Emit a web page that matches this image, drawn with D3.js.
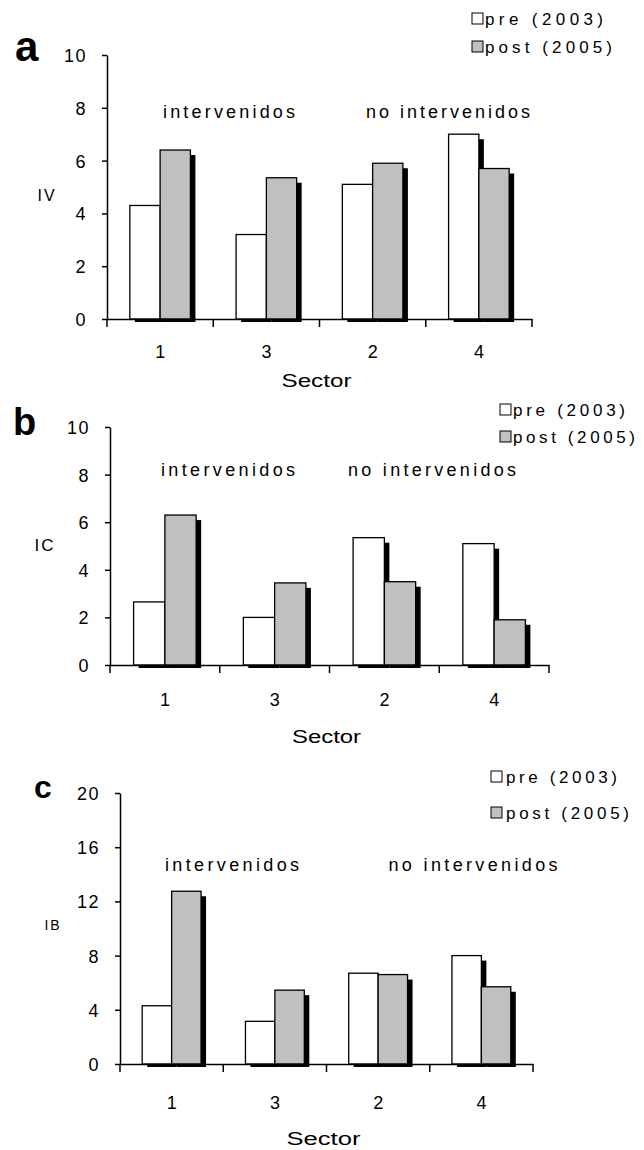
<!DOCTYPE html>
<html lang="es">
<head>
<meta charset="UTF-8">
<title>IV, IC, IB por sector</title>
<style>
body { margin: 0; background: #fff; }
svg { display: block; }
text { font-family: "Liberation Sans", Arial, sans-serif; fill: #000; }
.axis path, .axis line { stroke: #000; stroke-width: 1.5; }
.panel-letter { font-weight: bold; }
</style>
</head>
<body>
<svg width="644" height="1150"></svg>
<script src="https://d3js.org/d3.v7.min.js"></script>
<script>
// sectores en el orden del grafico
var sectors = ["1", "3", "2", "4"];
var seriesNames = ["pre (2003)", "post (2005)"];
var groupLabels = ["intervenidos", "no intervenidos"];

// a: IV
var ivPre = [4.3, 3.2, 5.1, 7.0];
var ivPost = [6.4, 5.35, 5.9, 5.7];
// b: IC
var icPre = [2.65, 2.0, 5.35, 5.1];
var icPost = [6.3, 3.45, 3.5, 1.9];
// c: IB
var ibPre = [4.3, 3.15, 6.7, 8.0];
var ibPost = [12.75, 5.45, 6.6, 5.7];

var ticks10 = [0, 2, 4, 6, 8, 10];
var ticks20 = [0, 4, 8, 12, 16, 20];

var fills = ["#ffffff", "#c0c0c0"];

var svg = d3.select("svg");
svg.append("rect").attr("width", 644).attr("height", 1150).attr("fill", "#fff");

function panel(p) {
    var g = svg.append("g");

    var x = d3.scaleBand().domain(sectors).range([p.x0, p.x1]);
    var y = d3.scaleLinear().domain([0, p.ymax]).range([p.y0, p.yTop]);

    var inner = x.bandwidth() * 0.57;
    var sub = d3.scaleBand().domain([0, 1]).range([0, inner]);
    var off = (x.bandwidth() - inner) / 2;

    var rows = [];
    sectors.forEach(function(s, i) {
        rows.push({ s: s, k: 0, v: p.pre[i] });
        rows.push({ s: s, k: 1, v: p.post[i] });
    });

    // sombras
    g.selectAll(".shadow").data(rows).enter().append("rect")
        .attr("class", "shadow")
        .attr("x", function(d) { return x(d.s) + off + sub(d.k) + 5; })
        .attr("y", function(d) { return y(d.v) + 5; })
        .attr("width", sub.bandwidth())
        .attr("height", function(d) { return p.y0 + 3 - y(d.v) - 5; })
        .attr("fill", "#000");

    g.selectAll(".bar").data(rows).enter().append("rect")
        .attr("class", "bar")
        .attr("x", function(d) { return x(d.s) + off + sub(d.k); })
        .attr("y", function(d) { return y(d.v); })
        .attr("width", sub.bandwidth())
        .attr("height", function(d) { return p.y0 - y(d.v); })
        .attr("fill", function(d) { return fills[d.k]; })
        .attr("stroke", "#000")
        .attr("stroke-width", 1.3);

    // eje y
    var ya = g.append("g").attr("class", "axis")
        .attr("transform", "translate(" + p.x0 + ",0)")
        .call(d3.axisLeft(y).tickValues(p.ticks).tickSize(5).tickSizeOuter(0).tickPadding(15));
    ya.selectAll("text").style("font-size", "18px").attr("letter-spacing", 1.5).attr("dy", "0.36em");

    // eje x: linea, marcas entre sectores y etiquetas centradas
    var xa = g.append("g").attr("class", "axis")
        .attr("transform", "translate(0," + p.y0 + ")")
        .call(d3.axisBottom(x).tickSize(0).tickSizeOuter(0).tickPadding(p.labelGap));
    xa.selectAll("text").style("font-size", "18px").attr("dy", "0.36em").attr("y", p.labelGap);
    var marks = sectors.map(function(s) { return x(s); }).concat([p.x1]);
    xa.selectAll(".mark").data(marks).enter().append("line")
        .attr("class", "mark")
        .attr("x1", function(d) { return d; }).attr("x2", function(d) { return d; })
        .attr("y1", 0).attr("y2", 8)
        .attr("stroke", "#000").attr("stroke-width", 1.5);

    g.append("text")
        .attr("x", (p.x0 + p.x1) / 2 - 3).attr("y", p.sectorY).attr("dy", "0.36em")
        .attr("text-anchor", "middle")
        .attr("textLength", p.sectorW)
        .attr("lengthAdjust", "spacingAndGlyphs")
        .style("font-size", "18px")
        .text("Sector");

    g.append("text")
        .attr("x", p.yLabX).attr("y", p.yLabY).attr("dy", "0.36em")
        .attr("text-anchor", "middle")
        .attr("letter-spacing", 2)
        .style("font-size", p.yLabSize + "px")
        .text(p.yLabel);

    g.append("text")
        .attr("class", "panel-letter")
        .attr("x", p.letterX).attr("y", p.letterY)
        .style("font-size", p.letterSize + "px")
        .text(p.letter);

    // rotulos de grupos
    g.selectAll(".grp").data(groupLabels).enter().append("text")
        .attr("class", "grp")
        .attr("x", function(d, i) { return p.grpX[i]; })
        .attr("y", p.grpY).attr("dy", "0.36em")
        .attr("text-anchor", "middle")
        .attr("textLength", function(d, i) { return p.grpW[i]; })
        .style("font-size", "18px")
        .text(function(d) { return d; });

    // leyenda
    var lg = g.selectAll(".leg").data(seriesNames).enter().append("g")
        .attr("class", "leg")
        .attr("transform", function(d, i) { return "translate(" + p.legX + "," + p.legY[i] + ")"; });
    lg.append("rect")
        .attr("x", 0).attr("y", -6).attr("width", 11).attr("height", 11)
        .attr("fill", function(d, i) { return fills[i]; })
        .attr("stroke", "#000").attr("stroke-width", 1);
    lg.append("text")
        .attr("x", p.legGap).attr("y", 0).attr("dy", "0.36em")
        .attr("textLength", function(d, i) { return p.legW[i]; })
        .style("font-size", "17px")
        .text(function(d) { return d; });
}

panel({
    pre: ivPre, post: ivPost, ymax: 10, ticks: ticks10,
    x0: 107, x1: 532, yTop: 55, y0: 319, labelGap: 33,
    sectorY: 381, sectorW: 70,
    yLabel: "IV", yLabX: 47, yLabY: 195, yLabSize: 16,
    letter: "a", letterX: 15, letterY: 61, letterSize: 42,
    grpX: [229, 448], grpY: 112, grpW: [132, 164],
    legX: 472, legY: [19, 47], legGap: 13, legW: [118, 127]
});

panel({
    pre: icPre, post: icPost, ymax: 10, ticks: ticks10,
    x0: 110, x1: 549, yTop: 427, y0: 665, labelGap: 35,
    sectorY: 737, sectorW: 69,
    yLabel: "IC", yLabX: 45, yLabY: 545, yLabSize: 17,
    letter: "b", letterX: 13, letterY: 435, letterSize: 38,
    grpX: [228, 432], grpY: 470, grpW: [134, 168],
    legX: 500, legY: [410, 437], legGap: 13, legW: [112, 122]
});

panel({
    pre: ibPre, post: ibPost, ymax: 20, ticks: ticks20,
    x0: 120, x1: 533, yTop: 793, y0: 1064, labelGap: 39,
    sectorY: 1139, sectorW: 74,
    yLabel: "IB", yLabX: 53, yLabY: 925, yLabSize: 14,
    letter: "c", letterX: 34, letterY: 798, letterSize: 32,
    grpX: [232, 473], grpY: 865, grpW: [134, 169],
    legX: 491, legY: [777, 813], legGap: 15, legW: [111, 123]
});
</script>
</body>
</html>
